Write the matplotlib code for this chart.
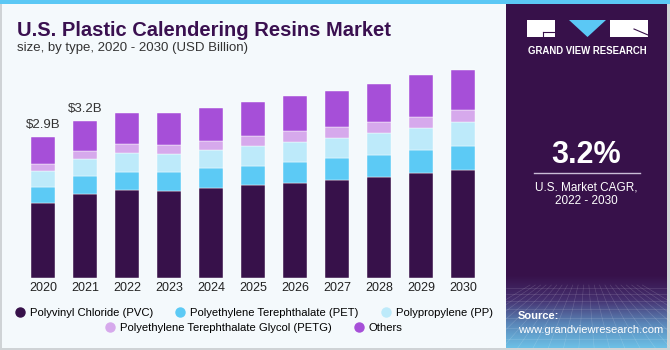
import numpy as np
import matplotlib
matplotlib.use("Agg")
import matplotlib.pyplot as plt
from matplotlib.lines import Line2D
from matplotlib.patches import Rectangle, Polygon
from matplotlib.colors import LinearSegmentedColormap

plt.rcParams['font.family'] = ['Liberation Sans', 'DejaVu Sans']

# data (USD billion)
years = ['2020', '2021', '2022', '2023', '2024', '2025', '2026', '2027', '2028', '2029', '2030']
pvc = [1.55, 1.72, 1.80, 1.79, 1.85, 1.91, 1.96, 2.02, 2.07, 2.16, 2.21]
pet = [0.31, 0.37, 0.38, 0.38, 0.40, 0.40, 0.42, 0.45, 0.45, 0.46, 0.50]
pp = [0.33, 0.36, 0.38, 0.38, 0.38, 0.41, 0.41, 0.41, 0.46, 0.47, 0.49]
petg = [0.16, 0.16, 0.19, 0.19, 0.19, 0.19, 0.22, 0.22, 0.22, 0.22, 0.24]
others = [0.54, 0.62, 0.64, 0.64, 0.67, 0.70, 0.73, 0.75, 0.79, 0.85, 0.83]
series_names = ['Polyvinyl Chloride (PVC)', 'Polyethylene Terephthalate (PET)',
                'Polypropylene (PP)', 'Polyethylene Terephthalate Glycol (PETG)', 'Others']
colors = ['#37114a', '#5ccaf5', '#bdeafa', '#d6a9ec', '#a64fd8']
labels = {0: '$2.9B', 1: '$3.2B'}

W, H = 670, 350
fig = plt.figure(figsize=(6.7, 3.5), dpi=100)
fig.patch.set_facecolor('#f4f9fc')

# background / decoration layer in pixel coords
bg = fig.add_axes([0, 0, 1, 1], zorder=0)
bg.axis('off')
bg.add_patch(Rectangle((0, 0), W, 4, color='#5bc8f5', lw=0))
bg.add_patch(Rectangle((0, 4), 1.5, H, color='#cfd3d6', lw=0))
bg.add_patch(Rectangle((0, H - 2), W, 2, color='#cfd3d6', lw=0))
bg.add_patch(Rectangle((W - 3, 4), 3, H, color='#cfd3d6', lw=0))

# right panel
px0, px1 = 506, 667
bg.add_patch(Rectangle((px0, 4), px1 - px0, H - 6, color='#37114a', lw=0))
grad = np.linspace(0, 1, 100)[:, None]
cmap = LinearSegmentedColormap.from_list('g', ['#37114a', '#45306f', '#5a86b8', '#6cc0e6'])
bg.imshow(grad, cmap=cmap, extent=(px0, px1, H - 2, 275), aspect='auto', zorder=1)
# faint grid on the panel bottom
for xx in np.linspace(px0 - 80, px1 + 80, 22):
    bg.plot([586 + (xx - 586) * 0.35, xx], [285, H - 2], color='white', lw=0.4, alpha=0.18, zorder=2)
for yy in [288, 294, 301, 309, 318, 328, 339]:
    bg.plot([px0, px1], [yy, yy], color='white', lw=0.4, alpha=0.18, zorder=2)
bg.set_xlim(0, W)
bg.set_ylim(H, 0)

# logo
bg.add_patch(Rectangle((527, 20), 28, 17, color='white', lw=0, zorder=3))
bg.add_patch(Polygon([(569, 20), (606, 20), (587.5, 37)], color='#5bc8f5', lw=0, zorder=3))
bg.add_patch(Rectangle((610, 20), 38, 17, color='white', lw=0, zorder=3))
bg.plot([543, 555], [32, 32], color='#37114a', lw=0.8, zorder=4)
bg.plot([543, 543], [32, 37], color='#37114a', lw=0.8, zorder=4)
bg.plot([634, 648], [29, 35], color='#37114a', lw=0.8, zorder=4)
bg.text(587.5, 51, 'GRAND VIEW RESEARCH', color='white', fontsize=6.9, fontweight='bold',
        ha='center', va='center', zorder=4)

bg.text(586, 155, '3.2%', color='white', fontsize=22, fontweight='bold', ha='center', va='center', zorder=4)
bg.plot([534, 640], [173, 173], color='#c9bcd6', lw=1, zorder=4)
bg.text(586, 187, 'U.S. Market CAGR,', color='white', fontsize=8.5, ha='center', va='center', zorder=4)
bg.text(586, 201, '2022 - 2030', color='white', fontsize=8.5, ha='center', va='center', zorder=4)
bg.text(518, 316, 'Source:', color='white', fontsize=8, fontweight='bold', ha='left', va='center', zorder=4)
bg.text(518, 330, 'www.grandviewresearch.com', color='white', fontsize=8, ha='left', va='center', zorder=4)

# titles
bg.text(17, 30, 'U.S. Plastic Calendering Resins Market', color='#3a1050', fontsize=14.5,
        fontweight='bold', ha='left', va='center')
bg.text(17, 48, 'size, by type, 2020 - 2030 (USD Billion)', color='#333333', fontsize=9.5,
        ha='left', va='center')

# chart
ax = fig.add_axes([22 / W, 72 / H, 462 / W, 243.5 / H], zorder=2)
ax.patch.set_alpha(0)
x = np.arange(len(years))
bottom = np.zeros(len(years))
for vals, c in zip([pvc, pet, pp, petg, others], colors):
    ax.bar(x, vals, width=0.58, bottom=bottom, color=c, edgecolor='white', linewidth=0.3)
    bottom = bottom + np.array(vals)
for i, t in labels.items():
    ax.text(x[i], bottom[i] + 0.12, t, ha='center', va='bottom', fontsize=9.5, color='#333333')
ax.set_xlim(-0.5, len(years) - 0.5)
ax.set_ylim(0, 5)
ax.set_xticks(x)
ax.set_xticklabels(years, fontsize=9, color='#222222')
ax.tick_params(axis='x', length=0, pad=3)
ax.set_yticks([])
for s in ax.spines.values():
    s.set_visible(False)

# legend, two centred rows
handles = [Line2D([], [], marker='o', ls='', markersize=6.5, markerfacecolor=c, markeredgecolor=c)
           for c in colors]
fig.legend(handles[:3], series_names[:3], loc='center', bbox_to_anchor=(253 / W, 1 - 313 / H),
           ncol=3, frameon=False, fontsize=8.1, handletextpad=0.3, columnspacing=1.8,
           borderpad=0, handlelength=1.2)
fig.legend(handles[3:], series_names[3:], loc='center', bbox_to_anchor=(253 / W, 1 - 328 / H),
           ncol=2, frameon=False, fontsize=8.1, handletextpad=0.3, columnspacing=1.8,
           borderpad=0, handlelength=1.2)

fig.savefig('out.png', dpi=100, facecolor=fig.get_facecolor())
